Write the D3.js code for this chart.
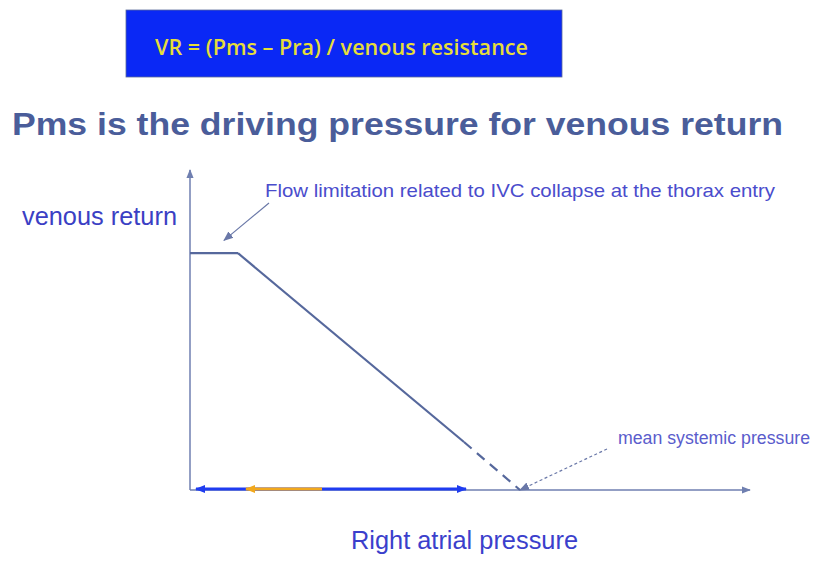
<!DOCTYPE html>
<html>
<head>
<meta charset="utf-8">
<script src="https://cdn.jsdelivr.net/npm/d3@7"></script>
<style>
  body { margin: 0; background: #fff; }
  svg { display: block; }
</style>
</head>
<body>
<div id="chart"></div>
<script>
// venous return curve (x = right atrial pressure, y = venous return), arbitrary units
const plateau = [[0, 7.4], [1.2, 7.4]];
const solidSlope = [[1.2, 7.4], [6.85, 1.5]];
const dashedSlope = [[6.85, 1.5], [8.25, 0]];
const pms = [8.25, 0];
// coloured segments on the x axis
const blueRange = [0.15, 6.9];
const orangeRange = [1.4, 3.3];
const labels = {
  formula: "VR = (Pms \u2013 Pra) / venous resistance",
  title: "Pms is the driving pressure for venous return",
  yLabel: "venous return",
  xLabel: "Right atrial pressure",
  flow: "Flow limitation related to IVC collapse at the thorax entry",
  mean: "mean systemic pressure"
};

const width = 821, height = 564;

const svg = d3.select("#chart").append("svg")
    .attr("width", width)
    .attr("height", height);

const x = d3.scaleLinear().domain([0, 14]).range([190, 750]);
const y = d3.scaleLinear().domain([0, 10]).range([490, 170]);

const defs = svg.append("defs");
function marker(id, color, size) {
  defs.append("marker")
      .attr("id", id)
      .attr("viewBox", "0 0 10 10")
      .attr("refX", 9).attr("refY", 5)
      .attr("markerWidth", size).attr("markerHeight", size)
      .attr("markerUnits", "userSpaceOnUse")
      .attr("orient", "auto-start-reverse")
      .append("path")
      .attr("d", "M0,1 L10,5 L0,9 Z")
      .attr("fill", color);
}
marker("axisHead", "#6f7fb0", 9);
marker("noteHead", "#6a78a8", 10);
marker("blueHead", "#1f3cf0", 10);
marker("orangeHead", "#f2a81c", 10);

// formula box
svg.append("rect")
    .attr("x", 126).attr("y", 10)
    .attr("width", 436).attr("height", 67)
    .attr("fill", "#0a28f5")
    .attr("stroke", "#5a6a9a").attr("stroke-width", 0.8);
svg.append("text")
    .attr("x", 155).attr("y", 55)
    .attr("font-family", "'Open Sans', sans-serif")
    .attr("font-weight", 600)
    .attr("font-size", 22)
    .attr("textLength", 373)
    .attr("lengthAdjust", "spacingAndGlyphs")
    .attr("fill", "#e6dd3a")
    .text(labels.formula);

// title
svg.append("text")
    .attr("x", 12).attr("y", 135)
    .attr("font-family", "'Liberation Sans', Arial, sans-serif")
    .attr("font-weight", "bold")
    .attr("font-size", 31)
    .attr("textLength", 771)
    .attr("lengthAdjust", "spacingAndGlyphs")
    .attr("fill", "#4a5d9a")
    .text(labels.title);

// axes
const axis = svg.append("g")
    .attr("stroke", "#6f7fb0").attr("stroke-width", 1.5).attr("fill", "none");
axis.append("line")
    .attr("x1", x(0)).attr("y1", y(0))
    .attr("x2", x(0)).attr("y2", y(10))
    .attr("marker-end", "url(#axisHead)");
axis.append("line")
    .attr("x1", x(0)).attr("y1", y(0))
    .attr("x2", x(14)).attr("y2", y(0))
    .attr("marker-end", "url(#axisHead)");

// curve
const line = d3.line().x(d => x(d[0])).y(d => y(d[1]));
const curve = svg.append("g")
    .attr("fill", "none").attr("stroke", "#56689c").attr("stroke-width", 2.2);
curve.append("path").attr("d", line(plateau));
curve.append("path").attr("d", line(solidSlope));
curve.append("path").attr("d", line(dashedSlope))
    .attr("stroke-dasharray", "10,7");

// coloured arrows along x axis
svg.append("line")
    .attr("x1", x(blueRange[0])).attr("y1", y(0) - 1)
    .attr("x2", x(blueRange[1])).attr("y2", y(0) - 1)
    .attr("stroke", "#1f3cf0").attr("stroke-width", 3)
    .attr("marker-start", "url(#blueHead)")
    .attr("marker-end", "url(#blueHead)");
svg.append("line")
    .attr("x1", x(orangeRange[0])).attr("y1", y(0) - 1)
    .attr("x2", x(orangeRange[1])).attr("y2", y(0) - 1)
    .attr("stroke", "#f2a81c").attr("stroke-width", 3)
    .attr("marker-start", "url(#orangeHead)");

// annotation arrows
svg.append("line")
    .attr("x1", 269).attr("y1", 203)
    .attr("x2", x(0.85)).attr("y2", y(7.8))
    .attr("stroke", "#6a78a8").attr("stroke-width", 1.2)
    .attr("marker-end", "url(#noteHead)");
svg.append("line")
    .attr("x1", 607).attr("y1", 449)
    .attr("x2", x(pms[0])).attr("y2", y(pms[1]))
    .attr("stroke", "#6a78a8").attr("stroke-width", 1.2)
    .attr("stroke-dasharray", "3,2.5")
    .attr("marker-end", "url(#noteHead)");

// labels
const font = "'Liberation Sans', Arial, sans-serif";
svg.append("text")
    .attr("x", 22).attr("y", 225)
    .attr("font-family", font).attr("font-size", 25)
    .attr("textLength", 155)
    .attr("lengthAdjust", "spacingAndGlyphs")
    .attr("fill", "#3b3fc4")
    .text(labels.yLabel);
svg.append("text")
    .attr("x", 265).attr("y", 197)
    .attr("font-family", font).attr("font-size", 19)
    .attr("textLength", 510)
    .attr("lengthAdjust", "spacingAndGlyphs")
    .attr("fill", "#4a4ccc")
    .text(labels.flow);
svg.append("text")
    .attr("x", 618).attr("y", 444)
    .attr("font-family", font).attr("font-size", 17.5)
    .attr("textLength", 192)
    .attr("lengthAdjust", "spacingAndGlyphs")
    .attr("fill", "#5a5ccc")
    .text(labels.mean);
svg.append("text")
    .attr("x", 351).attr("y", 549)
    .attr("font-family", font).attr("font-size", 25)
    .attr("textLength", 227)
    .attr("lengthAdjust", "spacingAndGlyphs")
    .attr("fill", "#3b3fcc")
    .text(labels.xLabel);
</script>
</body>
</html>
